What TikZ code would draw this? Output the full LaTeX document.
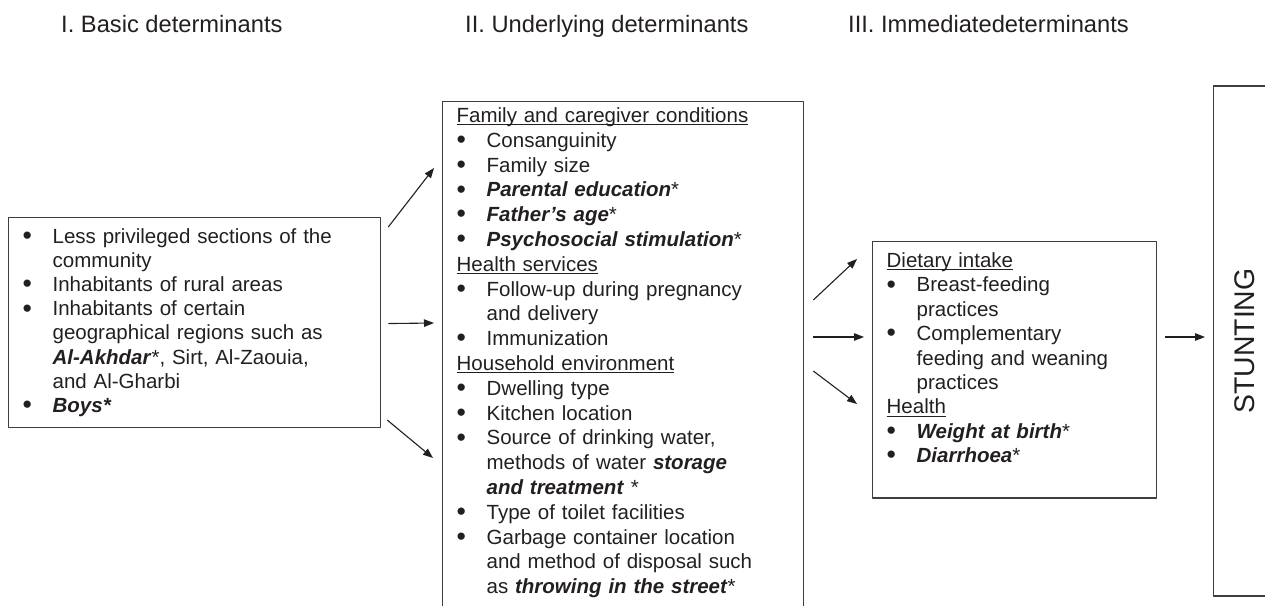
\documentclass[tikz,border=0pt]{standalone}
\usepackage{graphicx}
\usepackage{fontspec}
\setmainfont{Liberation Sans}
\usetikzlibrary{arrows.meta}
\definecolor{ink}{RGB}{35,31,32}
\definecolor{frame}{RGB}{62,62,62}

\newcommand{\bi}[1]{\textbf{\textit{#1}}}
\newcommand{\hd}[1]{\setbox0=\hbox{#1}\noindent\rlap{\rule[-2.4pt]{\wd0}{0.8pt}}\box0\par}
\newcommand{\itm}[1]{\hangindent=30pt\hangafter=1\noindent
  \makebox[30pt][l]{\raisebox{-1.2pt}{\scalebox{1.3}{\textbullet}}}#1\par}

\begin{document}
\begin{tikzpicture}[x=1pt,y=-1pt,line join=round,>={Triangle[length=10pt,width=7.5pt]},
  head/.style={anchor=base west,inner sep=0pt,text=ink,font=\fontsize{23.7}{28}\selectfont},
  box/.style={draw=frame,line width=1.3pt,text=ink,align=left,anchor=north west,inner xsep=14pt},
  arr/.style={->,ink,line width=1.1pt}]
  \useasboundingbox (0,0) rectangle (1265,605);
  \clip (0,0) rectangle (1265,605);

  \node[head] (h1) at (61,32) {I. Basic determinants};
  \node[head] (h2) at (465,32) {II. Underlying determinants};
  \node[head] (h3) at (848,32) {III. Immediatedeterminants};

  \node[box,text width=344pt,inner ysep=11pt,font=\fontsize{20.5}{24.1}\selectfont] (basic) at (8,217) {%
    \itm{Less privileged sections of the\newline community}
    \itm{Inhabitants of rural areas}
    \itm{Inhabitants of certain\newline geographical regions such as\newline \bi{Al-Akhdar}*, Sirt, Al-Zaouia,\newline and Al-Gharbi}
    \itm{\bi{Boys*}}};

  \node[box,text width=333pt,inner ysep=6pt,font=\fontsize{20.5}{24.8}\selectfont] (under) at (442,101) {%
    \hd{Family and caregiver conditions}
    \itm{Consanguinity}
    \itm{Family size}
    \itm{\bi{Parental education}*}
    \itm{\bi{Father's age}*}
    \itm{\bi{Psychosocial stimulation}*}
    \hd{Health services}
    \itm{Follow-up during pregnancy\newline and delivery}
    \itm{Immunization}
    \hd{Household environment}
    \itm{Dwelling type}
    \itm{Kitchen location}
    \itm{Source of drinking water,\newline methods of water \bi{storage}\newline \bi{and treatment} *}
    \itm{Type of toilet facilities}
    \itm{Garbage container location\newline and method of disposal such\newline as \bi{throwing in the street}*}
    \vspace*{30pt}\hbox{}};

  \node[box,text width=256pt,inner ysep=11pt,font=\fontsize{20.5}{24.4}\selectfont] (immed) at (872,241) {%
    \hd{Dietary intake}
    \itm{Breast-feeding\newline practices}
    \itm{Complementary\newline feeding and weaning\newline practices}
    \hd{Health}
    \itm{\bi{Weight at birth}*}
    \itm{\bi{Diarrhoea}*}
    \hbox{}};

  \node[draw=frame,line width=1.3pt,anchor=west,minimum width=140pt,minimum height=510pt] (stunt) at (1213,341) {};
  \node[text=ink,rotate=90,font=\fontsize{28.4}{34}\selectfont] (stunting) at ([xshift=32pt]stunt.west) {STUNTING};

  \draw[arr] ([shift={(7,10)}]basic.north east) -- ([shift={(-8,67)}]under.north west);
  \draw[arr] ([shift={(7,1)}]basic.east) -- ([shift={(-8,222)}]under.north west);
  \draw[arr] ([shift={(6,-8)}]basic.south east) -- ([shift={(-9,357)}]under.north west);

  \draw[arr] ([shift={(9,199)}]under.north east) -- ([shift={(-15,18)}]immed.north west);
  \draw[arr] ([shift={(9,236)}]under.north east) -- ([shift={(-8,96)}]immed.north west);
  \draw[arr] ([shift={(9,270)}]under.north east) -- ([shift={(-15,163)}]immed.north west);

  \draw[arr] ([shift={(8,96)}]immed.north east) -- ([shift={(-8,-4)}]stunt.west);
\end{tikzpicture}
\end{document}
